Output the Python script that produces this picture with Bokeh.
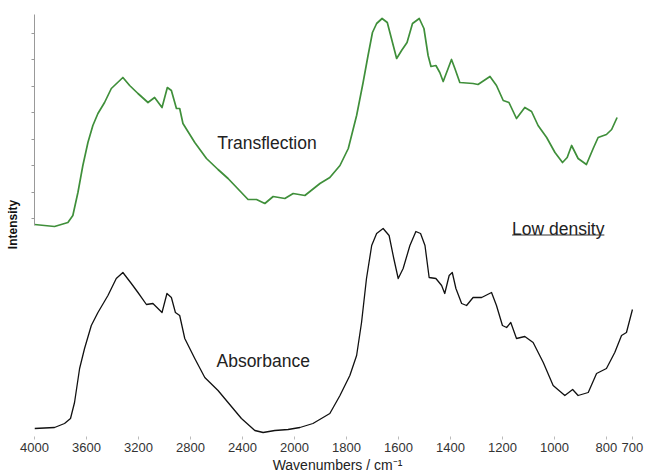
import numpy as np
from bokeh.plotting import figure
from bokeh.models import Range1d, FixedTicker, SingleIntervalTicker, Label, CustomJSTickFormatter
from bokeh.embed import file_html
from bokeh.resources import INLINE

# ---- data (wavenumber / cm-1, intensity a.u.) ----
trans_wn = [4000, 3846, 3743, 3705, 3666, 3628, 3589, 3551, 3512, 3461, 3409, 3320, 3268,
            3204, 3127, 3076, 3019, 2978, 2947, 2908, 2883, 2858, 2767, 2677, 2588, 2511,
            2357, 2292, 2228, 2164, 2074, 2010, 1960, 1902, 1864, 1825, 1793, 1761, 1736,
            1717, 1700, 1684, 1663, 1643, 1627, 1607, 1588, 1567, 1546, 1520, 1502, 1486,
            1475, 1456, 1441, 1428, 1409, 1396, 1383, 1364, 1313, 1294, 1248, 1223, 1197,
            1175, 1146, 1114, 1088, 1063, 1030, 998, 969, 951, 934, 909, 877, 851, 832,
            800, 780, 759]
trans_int = [2.06, 2.04, 2.08, 2.15, 2.38, 2.65, 2.88, 3.05, 3.17, 3.28, 3.42, 3.53, 3.45,
             3.37, 3.28, 3.33, 3.23, 3.43, 3.40, 3.22, 3.22, 3.07, 2.88, 2.72, 2.61, 2.52,
             2.31, 2.31, 2.27, 2.34, 2.32, 2.37, 2.35, 2.47, 2.53, 2.65, 2.82, 3.15, 3.48,
             3.75, 3.98, 4.07, 4.12, 4.08, 3.92, 3.72, 3.80, 3.88, 4.07, 4.12, 4.02, 3.75,
             3.64, 3.65, 3.58, 3.49, 3.62, 3.71, 3.62, 3.48, 3.47, 3.46, 3.54, 3.45, 3.30,
             3.28, 3.12, 3.23, 3.19, 3.05, 2.93, 2.78, 2.68, 2.73, 2.85, 2.72, 2.66, 2.82, 2.93,
             2.96, 3.01, 3.13]

abs_wn = [4000, 3846, 3769, 3723, 3692, 3653, 3615, 3563, 3512, 3435, 3371, 3320, 3255,
          3204, 3139, 3089, 3019, 2981, 2947, 2916, 2883, 2844, 2767, 2690, 2588, 2511,
          2408, 2305, 2241, 2151, 2049, 1979, 1929, 1864, 1825, 1787, 1761, 1742, 1723,
          1703, 1684, 1659, 1636, 1618, 1601, 1582, 1556, 1533, 1515, 1498, 1482, 1456,
          1434, 1422, 1405, 1393, 1379, 1357, 1338, 1313, 1280, 1242, 1223, 1200, 1184,
          1168, 1146, 1114, 1082, 1043, 1005, 960, 930, 909, 870, 838, 800, 768, 742,
          723, 700]
abs_int = [0.02, 0.03, 0.07, 0.12, 0.28, 0.62, 0.82, 1.05, 1.18, 1.35, 1.52, 1.58, 1.47,
           1.38, 1.26, 1.27, 1.18, 1.37, 1.33, 1.18, 1.15, 0.92, 0.72, 0.53, 0.40, 0.28,
           0.12, 0.00, -0.02, 0.00, 0.01, 0.03, 0.07, 0.17, 0.35, 0.55, 0.75, 1.08, 1.52,
           1.85, 1.97, 2.02, 1.95, 1.72, 1.52, 1.62, 1.85, 1.99, 1.97, 1.85, 1.53, 1.52,
           1.45, 1.37, 1.55, 1.58, 1.42, 1.27, 1.25, 1.33, 1.33, 1.38, 1.25, 1.05, 1.03,
           1.08, 0.92, 0.94, 0.88, 0.68, 0.45, 0.35, 0.41, 0.35, 0.38, 0.57, 0.62, 0.78, 0.95,
           0.98, 1.21]

tick_wn = [4000, 3600, 3200, 2800, 2400, 2000, 1800, 1600, 1400, 1200, 1000, 800, 700]


def to_u(w):
    """Split wavenumber axis: above 2000 cm-1 compressed by a factor of 2."""
    w = np.asarray(w, dtype=float)
    return np.where(w >= 2000, (4000 - w) / 2.0, 1000 + (2000 - w))


FONT = "Liberation Sans"

p = figure(width=646, height=475, output_backend="svg", toolbar_location=None,
           x_range=Range1d(0, 2331), y_range=Range1d(-0.06, 4.18),
           min_border_left=34, min_border_right=6, min_border_top=12, min_border_bottom=39)
p.grid.visible = False
p.outline_line_color = None
p.background_fill_color = "white"
p.border_fill_color = "white"

p.line(to_u(trans_wn), trans_int, line_color="#3f8f3a", line_width=1.7, line_join="round")
p.line(to_u(abs_wn), abs_int, line_color="#111111", line_width=1.3, line_join="round")

# x axis
tick_u = [int(v) for v in to_u(tick_wn)]
xa = p.xaxis[0]
xa.ticker = FixedTicker(ticks=tick_u)
xa.major_label_overrides = {u: str(w) for u, w in zip(tick_u, tick_wn)}
xa.axis_line_color = None
xa.major_tick_line_color = "#bbbbbb"
xa.major_tick_in = 0
xa.major_tick_out = 3
xa.minor_tick_line_color = None
xa.major_label_standoff = 3
xa.major_label_text_font = FONT
xa.major_label_text_font_size = "13px"
xa.major_label_text_color = "#333333"
xa.axis_label = "Wavenumbers / cm⁻¹"
xa.axis_label_text_font = FONT
xa.axis_label_text_font_size = "14px"
xa.axis_label_text_font_style = "normal"
xa.axis_label_text_color = "#222222"
xa.axis_label_standoff = 2

# y axis (no tick labels)
ya = p.yaxis[0]
ya.ticker = SingleIntervalTicker(interval=0.265, num_minor_ticks=0)
ya.formatter = CustomJSTickFormatter(code="return '';")
ya.bounds = (2.05, 4.16)
ya.axis_line_color = "#999999"
ya.major_tick_line_color = "#999999"
ya.major_tick_in = 0
ya.major_tick_out = 3
ya.minor_tick_line_color = None
ya.major_label_standoff = 0
ya.axis_label = "Intensity"
ya.axis_label_text_font = FONT
ya.axis_label_text_font_size = "12px"
ya.axis_label_text_font_style = "bold"
ya.axis_label_text_color = "#111111"
ya.axis_label_standoff = 12

# annotations
common = dict(text_font=FONT, text_font_size="17.5px", text_color="#222222",
              text_baseline="middle", text_align="left")
p.add_layout(Label(x=float(to_u(2595)), y=2.88, text="Transflection", **common))
p.add_layout(Label(x=float(to_u(2600)), y=0.70, text="Absorbance", **common))
ld_x = float(to_u(1163))
p.add_layout(Label(x=ld_x, y=2.02, text="Low density", **common))
p.segment(x0=[ld_x], y0=[1.955], x1=[ld_x + 355], y1=[1.955], line_color="#333333", line_width=1)

open("out.html", "w").write(file_html(p, INLINE))
